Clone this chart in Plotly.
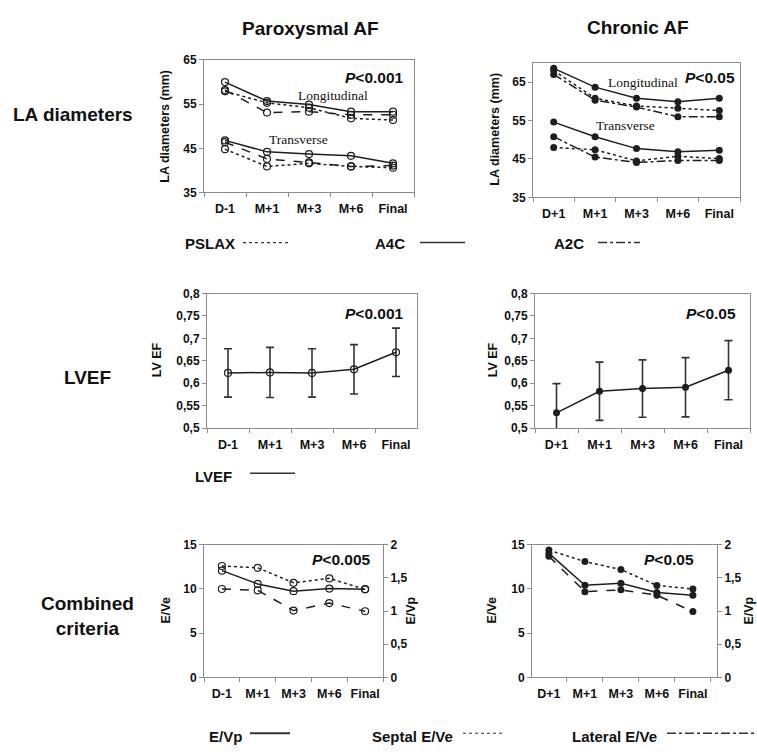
import plotly.graph_objects as go

W, H = 757, 754

# ---------------- data ----------------
cats_par = ["D-1", "M+1", "M+3", "M+6", "Final"]
cats_chr = ["D+1", "M+1", "M+3", "M+6", "Final"]

# LA diameters (mm) - Paroxysmal AF
par_long_pslax = [57.9, 55.3, 54.2, 51.8, 51.4]
par_long_a4c = [60.0, 55.7, 54.9, 53.3, 53.3]
par_long_a2c = [58.2, 53.1, 53.3, 52.6, 52.6]
par_trans_pslax = [44.8, 40.9, 41.6, 40.9, 40.6]
par_trans_a4c = [46.8, 44.2, 43.7, 43.3, 41.6]
par_trans_a2c = [46.4, 42.6, 41.8, 40.9, 41.1]

# LA diameters (mm) - Chronic AF
chr_long_pslax = [68.0, 60.8, 58.8, 58.2, 57.6]
chr_long_a4c = [68.6, 63.7, 60.8, 59.9, 60.8]
chr_long_a2c = [67.0, 60.3, 58.5, 56.0, 56.0]
chr_trans_pslax = [48.0, 47.4, 44.5, 45.7, 45.1]
chr_trans_a4c = [54.6, 50.8, 47.7, 46.9, 47.3]
chr_trans_a2c = [50.8, 45.5, 44.1, 44.6, 44.6]

# LVEF (mean, SD)
lvef_par = [0.623, 0.624, 0.623, 0.631, 0.669]
lvef_par_sd = [0.054, 0.056, 0.054, 0.055, 0.054]
lvef_chr = [0.534, 0.582, 0.588, 0.591, 0.629]
lvef_chr_sd = [0.065, 0.065, 0.064, 0.066, 0.066]

# Combined criteria
par_evp = [1.61, 1.41, 1.30, 1.34, 1.33]
par_septal = [12.6, 12.4, 10.7, 11.2, 9.96]
par_lateral = [10.0, 9.85, 7.56, 8.4, 7.48]
chr_evp = [1.87, 1.39, 1.42, 1.28, 1.24]
chr_septal = [14.4, 13.1, 12.2, 10.4, 10.0]
chr_lateral = [13.7, 9.7, 9.9, 9.3, 7.44]

# tick labels
la_ticks_par = [35, 45, 55, 65]
la_ticks_chr = [35, 45, 55, 65]
lvef_tickvals = [0.5, 0.55, 0.6, 0.65, 0.7, 0.75, 0.8]
lvef_ticktext = ["0,5", "0,55", "0,6", "0,65", "0,7", "0,75", "0,8"]
eve_ticks = [0, 5, 10, 15]
evp_tickvals = [0, 0.5, 1, 1.5, 2]
evp_ticktext = ["0", "0,5", "1", "1,5", "2"]

# ---------------- styling ----------------
FONT = "Arial, Liberation Sans, sans-serif"
SERIF = "Times New Roman, Liberation Serif, serif"
LINE = "#1e1e1e"
AX = "#8c8c8c"


def px(x):
    return x / W


def py(y):
    return 1 - y / H


fig = go.Figure()

hollow = dict(symbol="circle-open", size=7, color=LINE, line=dict(width=1.2, color=LINE))
filled = dict(symbol="circle", size=7, color=LINE)


def add_line(x, y, xa, ya, dash, marker, width=1.5):
    fig.add_trace(go.Scatter(x=x, y=y, xaxis=xa, yaxis=ya, mode="lines+markers",
                             line=dict(color=LINE, width=width, dash=dash),
                             marker=marker, showlegend=False, hoverinfo="skip"))


# Top-left
for ys, d in [(par_long_pslax, "dot"), (par_long_a2c, "dash"), (par_long_a4c, "solid"),
              (par_trans_pslax, "dot"), (par_trans_a2c, "dash"), (par_trans_a4c, "solid")]:
    add_line(cats_par, ys, "x", "y", d, hollow)
# Top-right
for ys, d in [(chr_long_pslax, "dot"), (chr_long_a2c, "dashdot"), (chr_long_a4c, "solid"),
              (chr_trans_pslax, "dot"), (chr_trans_a2c, "dashdot"), (chr_trans_a4c, "solid")]:
    add_line(cats_chr, ys, "x2", "y2", d, filled)

# LVEF
fig.add_trace(go.Scatter(x=cats_par, y=lvef_par, xaxis="x3", yaxis="y3", mode="lines+markers",
                         line=dict(color=LINE, width=1.5), marker=hollow,
                         error_y=dict(type="data", array=lvef_par_sd, color="#333", thickness=1.6, width=4),
                         showlegend=False, hoverinfo="skip"))
fig.add_trace(go.Scatter(x=cats_chr, y=lvef_chr, xaxis="x4", yaxis="y4", mode="lines+markers",
                         line=dict(color=LINE, width=1.5), marker=filled,
                         error_y=dict(type="data", array=lvef_chr_sd, color="#333", thickness=1.6, width=4),
                         showlegend=False, hoverinfo="skip"))

# Combined criteria
add_line(cats_par, par_septal, "x5", "y5", "dot", hollow)
add_line(cats_par, par_lateral, "x5", "y5", "dash", hollow)
add_line(cats_par, par_evp, "x5", "y6", "solid", hollow)
add_line(cats_chr, chr_septal, "x6", "y7", "dot", filled)
add_line(cats_chr, chr_lateral, "x6", "y7", "dash", filled)
add_line(cats_chr, chr_evp, "x6", "y8", "solid", filled)

# ---------------- axes ----------------
tickfont = dict(family=FONT, size=12, color="#111", weight="bold")
xtickfont = dict(family=FONT, size=12.5, color="#111", weight="bold")


def xaxis(x0, x1, anchor, rng=(-0.5, 4.5)):
    return dict(domain=[px(x0), px(x1)], anchor=anchor, type="category", range=list(rng),
                showline=True, linecolor=AX, linewidth=1, mirror=True, showgrid=False,
                zeroline=False, ticks="outside", tickson="boundaries", ticklen=4, tickcolor=AX,
                tickfont=xtickfont, tickangle=0, ticklabelstandoff=5, fixedrange=True)


def yaxis(y0, y1, anchor, rng, tickvals, ticktext=None, side="left", overlaying=None, mirror=True):
    d = dict(domain=[py(y1), py(y0)], anchor=anchor, range=list(rng), showline=True, linecolor=AX,
             linewidth=1, mirror=mirror, showgrid=False, zeroline=False, ticks="outside", ticklen=4,
             tickcolor=AX, tickvals=tickvals, ticktext=ticktext if ticktext else [str(v) for v in tickvals],
             tickfont=tickfont, side=side, fixedrange=True)
    if overlaying:
        d["overlaying"] = overlaying
    return d


fig.update_layout(
    width=W, height=H, margin=dict(l=0, r=0, t=0, b=0),
    paper_bgcolor="white", plot_bgcolor="white", showlegend=False,
    font=dict(family=FONT, color="#111"),
    xaxis=xaxis(204, 414, "y"),
    yaxis=yaxis(54, 189, "x", (35, 65), la_ticks_par),
    xaxis2=xaxis(533, 740, "y2"),
    yaxis2=yaxis(57, 194, "x2", (35, 70), la_ticks_chr),
    xaxis3=xaxis(207, 417, "y3"),
    yaxis3=yaxis(292, 429, "x3", (0.5, 0.8), lvef_tickvals, lvef_ticktext),
    xaxis4=xaxis(535, 750, "y4"),
    yaxis4=yaxis(292, 429, "x4", (0.5, 0.8), lvef_tickvals, lvef_ticktext),
    xaxis5=xaxis(204, 383, "y5"),
    yaxis5=yaxis(548, 683, "x5", (0, 15), eve_ticks),
    yaxis6=yaxis(548, 683, "x5", (0, 2), evp_tickvals, evp_ticktext, side="right", overlaying="y5", mirror=False),
    xaxis6=xaxis(532, 717, "y7", rng=(-0.47, 4.67)),
    yaxis7=yaxis(548, 683, "x6", (0, 15), eve_ticks),
    yaxis8=yaxis(548, 683, "x6", (0, 2), evp_tickvals, evp_ticktext, side="right", overlaying="y7", mirror=False),
)

ann = []


def text(x, y, s, size=12, bold=True, family=FONT, angle=0, xanchor="center"):
    if bold:
        s = "<b>" + s + "</b>"
    ann.append(dict(x=px(x), y=py(y), xref="paper", yref="paper", text=s, showarrow=False,
                    font=dict(family=family, size=size, color="#111"), textangle=angle,
                    xanchor=xanchor, yanchor="middle"))


# column titles
text(310, 22, "Paroxysmal AF", 19)
text(638, 21, "Chronic AF", 19)
# row labels
text(73, 110, "LA diameters", 19)
text(87, 377, "LVEF", 19)
text(87, 621, "Combined<br>criteria", 19)

# axis titles
text(165, 122, "LA diameters (mm)", 12.5, angle=-90)
text(495, 125, "LA diameters (mm)", 12.5, angle=-90)
text(157, 360, "LV EF", 12.5, angle=-90)
text(493, 360, "LV EF", 12.5, angle=-90)
text(166, 615, "E/Ve", 12.5, angle=-90)
text(411, 615, "E/Vp", 12.5, angle=-90)
text(492, 615, "E/Ve", 12.5, angle=-90)
text(749, 615, "E/Vp", 12.5, angle=-90)

# P values
text(374, 72, "<i>P</i><0.001", 15.5)
text(710, 72, "<i>P</i><0.05", 15.5)
text(374, 312, "<i>P</i><0.001", 15.5)
text(711, 312, "<i>P</i><0.05", 15.5)
text(341, 563, "<i>P</i><0.005", 15.5)
text(669, 563, "<i>P</i><0.05", 15.5)

# in-plot labels
text(333, 90, "Longitudinal", 13.5, bold=False, family=SERIF)
text(298, 135, "Transverse", 13.5, bold=False, family=SERIF)
text(643, 77, "Longitudinal", 13.5, bold=False, family=SERIF)
text(625, 121, "Transverse", 13.5, bold=False, family=SERIF)

# legends
text(183, 241, "PSLAX", 15, xanchor="left")
text(373, 241, "A4C", 15, xanchor="left")
text(552, 241, "A2C", 15, xanchor="left")
text(193, 478, "LVEF", 15, xanchor="left")
text(207, 743, "E/Vp", 15, xanchor="left")
text(370, 743, "Septal E/Ve", 15, xanchor="left")
text(570, 743, "Lateral E/Ve", 15, xanchor="left")

fig.update_layout(annotations=ann)

legend_lines = [
    (243, 288, 240, "dot", 1.2),
    (420, 465, 240, "solid", 1.6),
    (598, 640, 240, "dashdot", 1.6),
    (250, 295, 475, "solid", 1.6),
    (250, 290, 740, "solid", 1.8),
    (463, 505, 740, "dot", 1.2),
    (667, 757, 740, "dashdot", 1.6),
]
shapes = []
for x0, x1, y, d, w in legend_lines:
    shapes.append(dict(type="line", xref="paper", yref="paper", x0=px(x0), x1=px(x1), y0=py(y), y1=py(y),
                       line=dict(color="#333", width=w, dash=d)))
fig.update_layout(shapes=shapes)

fig.write_html("out.html", config={"displayModeBar": False},
               post_script="document.body.style.margin='0';document.body.style.padding='0';"
                           "document.body.style.overflow='hidden';")
